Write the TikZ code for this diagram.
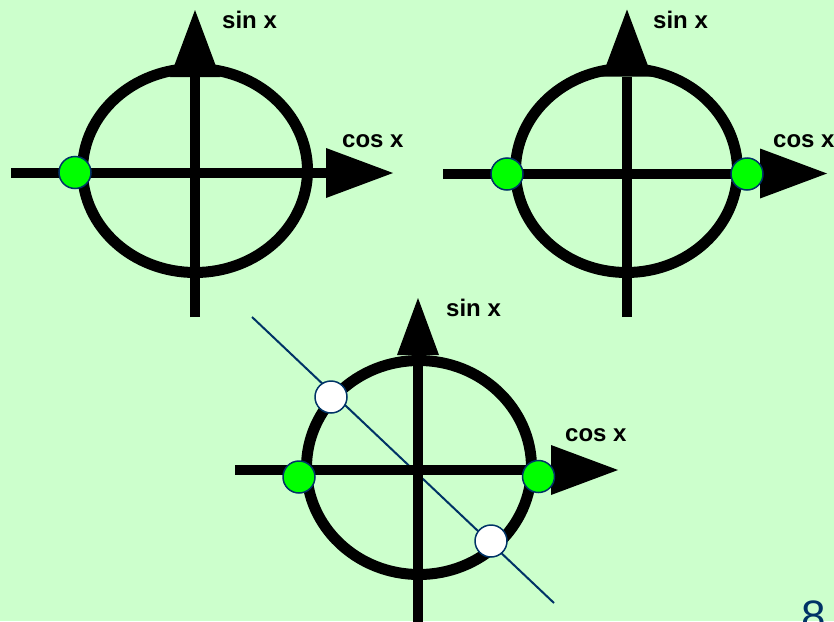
\documentclass[tikz,border=0pt]{standalone}
\usepackage{fontspec}
\setmainfont{Liberation Sans}
\usetikzlibrary{arrows.meta,shapes.geometric}
\definecolor{bg}{HTML}{CCFFCC}
\definecolor{navy}{HTML}{003366}
\definecolor{dotgreen}{HTML}{00FF00}
\begin{document}
\begin{tikzpicture}[x=1pt,y=-1pt,
  axis/.style={line width=10pt, -{Triangle[length=67pt,width=50pt,line width=0pt]}},
  smallaxis/.style={line width=10pt, -{Triangle[length=57pt,width=42pt,line width=0pt]}},
  ring/.style={ellipse, draw, line width=11pt, inner sep=0pt},
  gdot/.style={circle, minimum size=32pt, inner sep=0pt, fill=dotgreen, draw=navy, line width=1.5pt},
  wdot/.style={gdot, fill=white},
  lbl/.style={font=\fontsize{24}{28}\selectfont\bfseries, inner sep=0pt, anchor=base west}]
\useasboundingbox (0,0) rectangle (834,621);
\fill[bg] (0,0) rectangle (834,621);

% ---------- top left ----------
\node[ring, minimum width=225pt, minimum height=204pt] (e1) at (195,170.5) {};
\coordinate (h1a) at (11,173);
\coordinate (h1b) at (393,173);
\coordinate (v1a) at (195,317);
\coordinate (v1b) at (195,10);
\draw[axis] (h1a) -- (h1b);
\draw[axis] (v1a) -- (v1b);
\node[lbl] (s1) at (222,28) {sin x};
\node[lbl] (c1) at (342,147) {cos x};
\node[gdot] (g1) at (75,172.5) {};

% ---------- top right ----------
\node[ring, minimum width=222pt, minimum height=204pt] (e2) at (626.5,170.5) {};
\coordinate (h2a) at (443,173.5);
\coordinate (h2b) at (827,173.5);
\coordinate (v2a) at (627,317);
\coordinate (v2b) at (627,9.5);
\draw[axis] (h2a) -- (h2b);
\draw[axis] (v2a) -- (v2b);
\node[lbl] (s2) at (653,28) {sin x};
\node[lbl] (c2) at (773,147) {cos x};
\node[gdot] (g2) at (507,174) {};
\node[gdot] (g3) at (747,174) {};

% ---------- bottom ----------
\coordinate (la) at (252,317);
\coordinate (lb) at (554,603);
\draw[navy, line width=2pt] (la) -- (lb);
\node[ring, minimum width=225pt, minimum height=214pt] (e3) at (419,467.5) {};
\coordinate (h3a) at (235,470);
\coordinate (h3b) at (618,470);
\coordinate (v3a) at (418,630);
\coordinate (v3b) at (418,298);
\draw[axis] (h3a) -- (h3b);
\draw[smallaxis] (v3a) -- (v3b);
\node[lbl] (s3) at (446,316) {sin x};
\node[lbl] (c3) at (565,441) {cos x};
\node[gdot] (g4) at (299,477) {};
\node[gdot] (g5) at (538.5,476.5) {};
\node[wdot] (w1) at (331,397) {};
\node[wdot] (w2) at (491,541) {};

% ---------- page number ----------
\node[font=\fontsize{44}{50}\selectfont, text=navy, anchor=base west, inner sep=0pt] (pg) at (801,631) {8};
\end{tikzpicture}
\end{document}
